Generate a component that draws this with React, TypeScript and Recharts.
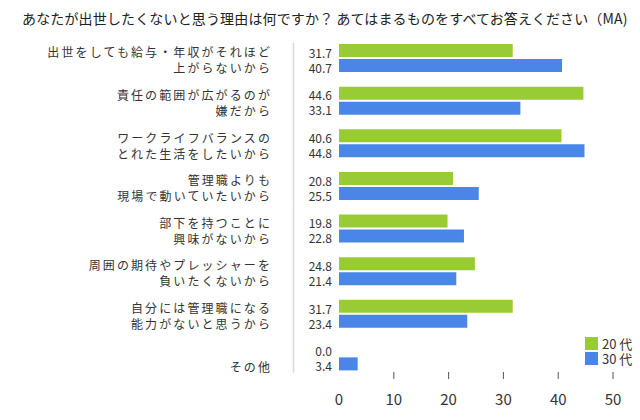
import { BarChart, Bar, XAxis, YAxis } from 'recharts';

const CATEGORY_LINES: string[][] = [
  ['出世をしても給与・年収がそれほど', '上がらないから'],
  ['責任の範囲が広がるのが', '嫌だから'],
  ['ワークライフバランスの', 'とれた生活をしたいから'],
  ['管理職よりも', '現場で動いていたいから'],
  ['部下を持つことに', '興味がないから'],
  ['周囲の期待やプレッシャーを', '負いたくないから'],
  ['自分には管理職になる', '能力がないと思うから'],
  ['', 'その他'],
];
const AGE20 = [31.7, 44.6, 40.6, 20.8, 19.8, 24.8, 31.7, 0.0];
const AGE30 = [40.7, 33.1, 44.8, 25.5, 22.8, 21.4, 23.4, 3.4];
const X_TICKS = [0, 10, 20, 30, 40, 50];
const SERIES = [
  { key: 'age20', name: '20 代', color: '#99cc33' },
  { key: 'age30', name: '30 代', color: '#4a86e8' },
];

const TITLE = 'あなたが出世したくないと思う理由は何ですか？ あてはまるものをすべてお答えください（MA)';
const FONT = '"Noto Sans CJK JP", "Noto Sans", sans-serif';

const data = CATEGORY_LINES.map((lines, i) => ({
  name: String(i),
  age20: AGE20[i],
  age30: AGE30[i],
}));

// category labels, value labels and the light divider line live in the y tick
function CategoryTick(props: any) {
  const { x, y, payload, index } = props;
  const i = Number(payload.value);
  const lines = CATEGORY_LINES[i] || ['', ''];
  const last = CATEGORY_LINES.length - 1;
  const top = index === 0 ? y - 15.5 : y - 21.5;
  const bottom = index === last ? y + 16 : y + 21.5;
  const values = [AGE20[i], AGE30[i]];
  return (
    <g>
      <line x1={x + 0.5} x2={x + 0.5} y1={top} y2={bottom} stroke="#d9d9d9" strokeWidth={1.5} />
      {lines.map((t, k) => (
        <text
          key={'c' + k}
          x={x - 21}
          y={k === 0 ? y - 6.5 : y + 9.5}
          textAnchor="end"
          dominantBaseline="central"
          fontSize={12}
          letterSpacing={2.1}
          fill="#333"
          fontFamily={FONT}
        >
          {t}
        </text>
      ))}
      {values.map((v, k) => (
        <text
          key={'v' + k}
          x={x + 39}
          y={k === 0 ? y - 6 : y + 9}
          textAnchor="end"
          dominantBaseline="central"
          fontSize={12}
          fill="#333"
          fontFamily={FONT}
        >
          {v.toFixed(1)}
        </text>
      ))}
    </g>
  );
}

function ValueTick(props: any) {
  const { x, y, payload } = props;
  return (
    <g>
      {payload.value !== 0 && (
        <line x1={x} x2={x} y1={y - 6} y2={y + 1} stroke="#555" strokeWidth={1} />
      )}
      <text x={x} y={y + 20} textAnchor="middle" dominantBaseline="central" fontSize={15} fill="#333" fontFamily={FONT}>
        {payload.value}
      </text>
    </g>
  );
}

export default function App() {
  return (
    <div style={{ position: 'absolute', left: 0, top: 0, width: 640, height: 420, background: '#fff' }}>
      <div
        style={{
          position: 'absolute',
          left: 22,
          top: 8,
          fontFamily: FONT,
          fontSize: 14,
          color: '#222',
          whiteSpace: 'nowrap',
          letterSpacing: 0.15,
        }}
      >
        {TITLE}
      </div>
      <BarChart
        width={640}
        height={420}
        data={data}
        layout="vertical"
        margin={{ top: 37, right: 27, bottom: 0, left: 0 }}
        barGap={2}
        barSize={13}
      >
        <XAxis
          type="number"
          domain={[-8.4, 50]}
          ticks={X_TICKS}
          axisLine={false}
          tickLine={false}
          tickSize={0}
          tickMargin={0}
          height={42}
          tick={<ValueTick />}
          interval={0}
          allowDataOverflow
        />
        <YAxis
          type="category"
          dataKey="name"
          width={293}
          axisLine={false}
          tickLine={false}
          tickSize={0}
          tickMargin={0}
          tick={<CategoryTick />}
          interval={0}
        />
        {SERIES.map(s => (
          <Bar key={s.key} dataKey={s.key} name={s.name} fill={s.color} isAnimationActive={false} />
        ))}
      </BarChart>
      <div
        style={{
          position: 'absolute',
          left: 585,
          top: 337,
          fontFamily: FONT,
          fontSize: 13,
          color: '#333',
          lineHeight: '13px',
        }}
      >
        {SERIES.map(s => (
          <div key={s.key} style={{ display: 'flex', alignItems: 'center', marginBottom: 2 }}>
            <span style={{ width: 13, height: 13, background: s.color, display: 'inline-block', marginRight: 4 }} />
            <span>{s.name}</span>
          </div>
        ))}
      </div>
    </div>
  );
}
